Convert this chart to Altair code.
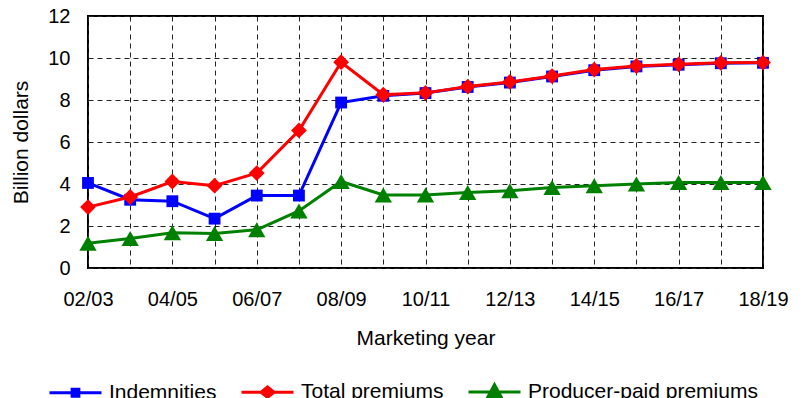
import altair as alt
import pandas as pd

years = ["02/03", "03/04", "04/05", "05/06", "06/07", "07/08", "08/09", "09/10",
         "10/11", "11/12", "12/13", "13/14", "14/15", "15/16", "16/17", "17/18", "18/19"]
indemnities = [4.05, 3.25, 3.18, 2.35, 3.45, 3.45, 7.88, 8.2, 8.33, 8.62, 8.83,
               9.12, 9.42, 9.6, 9.68, 9.75, 9.77]
total_premiums = [2.9, 3.38, 4.12, 3.92, 4.52, 6.55, 9.8, 8.25, 8.34, 8.64, 8.86,
                  9.14, 9.45, 9.62, 9.7, 9.77, 9.78]
producer_paid = [1.18, 1.4, 1.68, 1.64, 1.82, 2.72, 4.12, 3.48, 3.48, 3.6, 3.68,
                 3.83, 3.92, 4.0, 4.07, 4.07, 4.07]

series_names = ["Indemnities", "Total premiums", "Producer-paid premiums"]
series_values = [indemnities, total_premiums, producer_paid]
colors = ["#0000FF", "#FF0000", "#008000"]
marker_shapes = ["square", "diamond", "triangle-up"]
marker_sizes = [140, 250, 300]
legend_paths = [
    "M-1,0H1M-0.13,-0.13H0.13V0.13H-0.13Z",
    "M-1,0H1M0,-0.2L0.25,0L0,0.2L-0.25,0Z",
    "M-1,0H1M0,-0.28L0.27,0.22L-0.27,0.22Z",
]

rows = []
for name, vals in zip(series_names, series_values):
    for yr, v in zip(years, vals):
        rows.append({"year": yr, "value": v, "series": name})
df = pd.DataFrame(rows)

FONT = "Liberation Sans"
FS = 20
TFS = 21

x_enc = alt.X(
    "year:O", sort=years, title="Marketing year",
    scale=alt.Scale(type="point", padding=0),
    axis=alt.Axis(
        labelAngle=0, labelOverlap=False, ticks=False, tickSize=0,
        labelPadding=21, titlePadding=18, domain=False,
        grid=True, gridDash=[5, 4], gridColor="#222222", gridWidth=1,
        labelExpr="toNumber(slice(datum.value,0,2)) % 2 == 0 ? datum.value : ''",
    ),
)
y_enc = alt.Y(
    "value:Q", title="Billion dollars",
    scale=alt.Scale(domain=[0, 12], nice=False),
    axis=alt.Axis(
        values=[0, 2, 4, 6, 8, 10, 12], ticks=False, tickSize=0,
        labelPadding=18, titlePadding=16, domain=False,
        grid=True, gridDash=[5, 4], gridColor="#222222", gridWidth=1,
    ),
)

base = alt.Chart(df)
layers = []
for name, col, shp, sz in zip(series_names, colors, marker_shapes, marker_sizes):
    sub = base.transform_filter(alt.datum.series == name)
    layers.append(sub.mark_line(strokeWidth=3, color=col).encode(x=x_enc, y=y_enc))
    layers.append(
        sub.mark_point(filled=True, shape=shp, size=sz, opacity=1, color=col).encode(
            x=x_enc, y=y_enc)
    )

legend_layer = base.transform_filter("false").mark_point(filled=False, strokeWidth=3).encode(
    color=alt.Color(
        "series:N", scale=alt.Scale(domain=series_names, range=colors),
        legend=alt.Legend(
            title=None, orient="none", direction="horizontal",
            legendX=-40, legendY=348, padding=0,
            labelFont=FONT, labelFontSize=TFS, labelColor="#000000",
            labelOffset=6, columnPadding=18, labelLimit=400,
            symbolSize=2704, symbolStrokeWidth=3, symbolOpacity=1,
        ),
    ),
    fill=alt.Fill("series:N", scale=alt.Scale(domain=series_names, range=colors)),
    shape=alt.Shape("series:N", scale=alt.Scale(domain=series_names, range=legend_paths)),
)
layers.append(legend_layer)

chart = alt.layer(*layers).properties(
    width=675, height=252,
    autosize=alt.AutoSizeParams(type="none"),
    padding={"left": 80, "top": 8, "right": 36, "bottom": 130},
    background="#ffffff",
).configure_view(
    stroke="#000000", strokeWidth=2
).configure_axis(
    labelFont=FONT, labelFontSize=FS, labelColor="#000000",
    titleFont=FONT, titleFontSize=TFS, titleFontWeight="normal", titleColor="#000000",
)

chart.save("out.html", embed_options={"renderer": "svg", "actions": False})
